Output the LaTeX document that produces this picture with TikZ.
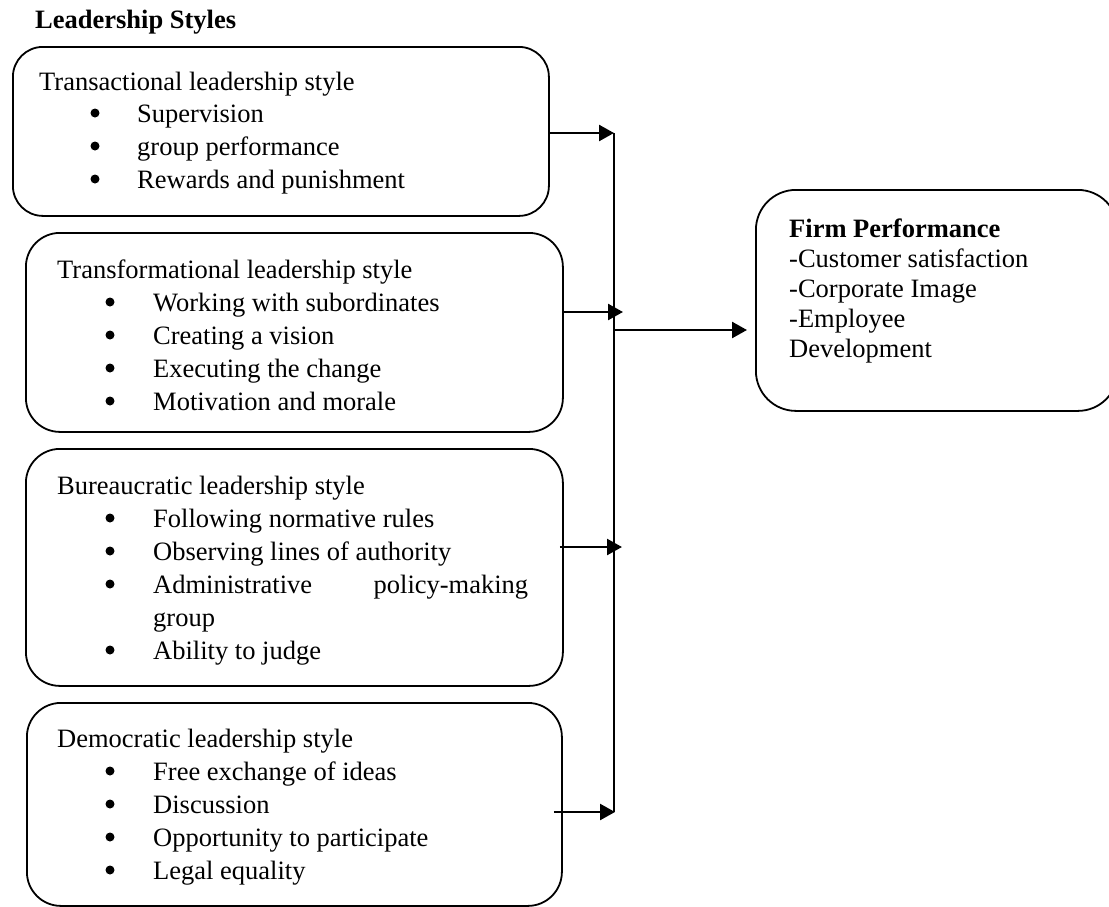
\documentclass[tikz,border=0pt]{standalone}
\usepackage{fontspec}
\setmainfont{Liberation Serif}
\usetikzlibrary{arrows.meta,calc}
\begin{document}
\begin{tikzpicture}[x=1pt,y=-1pt,
  font=\fontsize{26.5}{33}\selectfont,
  panel/.style={draw=black, line width=1.8pt, rounded corners=#1, inner sep=0pt, anchor=north west},
  panel/.default=34pt,
  txt/.style={anchor=base west, inner sep=0pt},
  dot/.style={circle, fill=black, inner sep=0pt, minimum size=9pt},
  link/.style={line width=2.5pt, -{Triangle[length=15pt,width=16pt]}},
  bus/.style={line width=2pt}]
\useasboundingbox (0,0) rectangle (1109,906);

% heading
\node[txt, font=\fontsize{26.5}{33}\selectfont\bfseries] (head) at (35,28) {Leadership Styles};

% the four style panels
\node[panel=30pt, minimum width=536pt, minimum height=169pt] (b1) at (12,46) {};
\node[panel, minimum width=537pt, minimum height=199pt] (b2) at (25,232) {};
\node[panel, minimum width=537pt, minimum height=237pt] (b3) at (25,448) {};
\node[panel, minimum width=535pt, minimum height=203pt] (b4) at (26,702) {};

% outcome panel
\node[panel=40pt, minimum width=362pt, minimum height=221pt] (f) at (755,189) {};

% transactional (bullets sit 9pt above each baseline)
\node[txt] (b1t) at (39,90) {Transactional leadership style};
\node[dot] (b1d1) at (95,113) {}; \node[txt] (b1i1) at (137,122) {Supervision};
\node[dot] (b1d2) at (95,146) {}; \node[txt] (b1i2) at (137,155) {group performance};
\node[dot] (b1d3) at (95,179) {}; \node[txt] (b1i3) at (137,188) {Rewards and punishment};

% transformational
\node[txt] (b2t) at (57,278) {Transformational leadership style};
\node[dot] (b2d1) at (110,302) {}; \node[txt] (b2i1) at (153,311) {Working with subordinates};
\node[dot] (b2d2) at (110,335) {}; \node[txt] (b2i2) at (153,344) {Creating a vision};
\node[dot] (b2d3) at (110,368) {}; \node[txt] (b2i3) at (153,377) {Executing the change};
\node[dot] (b2d4) at (110,401) {}; \node[txt] (b2i4) at (153,410) {Motivation and morale};

% bureaucratic
\node[txt] (b3t) at (57,494) {Bureaucratic leadership style};
\node[dot] (b3d1) at (110,518) {}; \node[txt] (b3i1) at (153,527) {Following normative rules};
\node[dot] (b3d2) at (110,551) {}; \node[txt] (b3i2) at (153,560) {Observing lines of authority};
\node[dot] (b3d3) at (110,584) {}; \node[txt] (b3i3) at (153,593) {\hbox to 375pt{Administrative\hfill policy-making}};
\node[txt] (b3i3b) at (153,626) {group};
\node[dot] (b3d4) at (110,650) {}; \node[txt] (b3i4) at (153,659) {Ability to judge};

% democratic
\node[txt] (b4t) at (57,747) {Democratic leadership style};
\node[dot] (b4d1) at (110,771) {}; \node[txt] (b4i1) at (153,780) {Free exchange of ideas};
\node[dot] (b4d2) at (110,804) {}; \node[txt] (b4i2) at (153,813) {Discussion};
\node[dot] (b4d3) at (110,837) {}; \node[txt] (b4i3) at (153,846) {Opportunity to participate};
\node[dot] (b4d4) at (110,870) {}; \node[txt] (b4i4) at (153,879) {Legal equality};

% firm performance
\node[txt, font=\fontsize{26.5}{33}\selectfont\bfseries] (ft) at (789,237) {Firm Performance};
\node[txt] (f1) at (789,267) {-Customer satisfaction};
\node[txt] (f2) at (789,297) {-Corporate Image};
\node[txt] (f3) at (789,327) {-Employee};
\node[txt] (f4) at (789,357) {Development};

% collector line and its taps
\coordinate (e1) at (614,133);
\coordinate (e2) at (623,312);
\coordinate (e3) at (622,547);
\coordinate (e4) at (615,812);
\coordinate (busTop) at (614,133);
\coordinate (busBot) at (614,812);
\coordinate (busOut) at (614,330);

\draw[bus] (busTop) -- (busBot);
\draw[link] (b1.east |- e1) -- (e1);
\draw[link] (b2.east |- e2) -- (e2);
\draw[link] ($(b3.east |- e3)+(-4,0)$) -- (e3);
\draw[link] ($(b4.east |- e4)+(-9,0)$) -- (e4);
\draw[link] (busOut) -- ($(f.west |- busOut)+(-8,0)$);
\end{tikzpicture}
\end{document}
